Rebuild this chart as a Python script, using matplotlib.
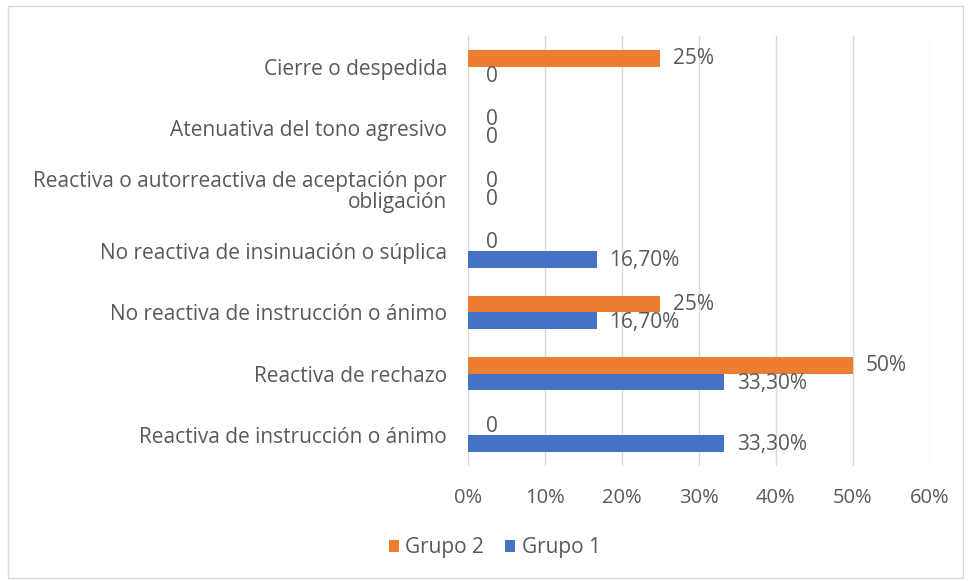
import matplotlib

matplotlib.use("Agg")
import matplotlib.pyplot as plt  # noqa: E402
import numpy as np  # noqa: E402
from matplotlib.patches import Rectangle  # noqa: E402

# categorías de abajo hacia arriba
categories = [
    "Reactiva de instrucción o ánimo",
    "Reactiva de rechazo",
    "No reactiva de instrucción o ánimo",
    "No reactiva de insinuación o súplica",
    "Reactiva o autorreactiva de aceptación por\nobligación",
    "Atenuativa del tono agresivo",
    "Cierre o despedida",
]
grupo1 = [0.333, 0.333, 0.167, 0.167, 0, 0, 0]
grupo2 = [0, 0.50, 0.25, 0, 0, 0, 0.25]
labels1 = ["33,30%", "33,30%", "16,70%", "16,70%", "0", "0", "0"]
labels2 = ["0", "50%", "25%", "0", "0", "0", "25%"]
xticks = [0, 0.1, 0.2, 0.3, 0.4, 0.5, 0.6]

blue = "#4472C4"
orange = "#ED7D31"
gray = "#595959"

plt.rcParams["font.family"] = ["Open Sans", "DejaVu Sans"]

fig = plt.figure(figsize=(9.7, 5.81), dpi=100)
ax = fig.add_axes([0.4825, 0.198, 0.476, 0.74])

y = np.arange(len(categories))
h = 0.27
ax.barh(y - h / 2, grupo1, height=h, color=blue, label="Grupo 1", zorder=3)
ax.barh(y + h / 2, grupo2, height=h, color=orange, label="Grupo 2", zorder=3)

fs = 15
for yi, v, t in zip(y, grupo1, labels1):
    dx = 13 if v == 0 else 9
    ax.annotate(t, (v, yi - h / 2), xytext=(dx, -1), textcoords="offset points",
                ha="left", va="center", fontsize=fs, color=gray)
for yi, v, t in zip(y, grupo2, labels2):
    dx = 13 if v == 0 else 9
    ax.annotate(t, (v, yi + h / 2), xytext=(dx, 0), textcoords="offset points",
                ha="left", va="center", fontsize=fs, color=gray)

ax.set_xlim(0, 0.6)
ax.set_ylim(-0.5, len(categories) - 0.5)
ax.set_xticks(xticks)
ax.set_xticklabels([f"{int(round(t * 100))}%" for t in xticks])
ax.set_yticks(y)
ax.set_yticklabels(categories, linespacing=1.0)
ax.tick_params(length=0, labelsize=fs, colors=gray)
ax.tick_params(axis="x", labelsize=14.5, pad=16)
ax.tick_params(axis="y", pad=15)
for lab in ax.get_yticklabels():
    lab.set_horizontalalignment("right")
ax.grid(axis="x", color="#d9d9d9", linewidth=1, zorder=0)
for s in ax.spines.values():
    s.set_visible(False)

handles, labs = ax.get_legend_handles_labels()
fig.legend(handles[::-1], labs[::-1], loc="center", bbox_to_anchor=(0.51, 0.057),
           ncol=2, frameon=False, fontsize=15, labelcolor=gray,
           handlelength=0.5, handleheight=0.5, handletextpad=0.3, columnspacing=1.0)

fig.patches.append(Rectangle((0.008, 0.005), 0.985, 0.985, transform=fig.transFigure,
                             fill=False, edgecolor="#d9d9d9", linewidth=1))

fig.savefig("out.png", dpi=100)
